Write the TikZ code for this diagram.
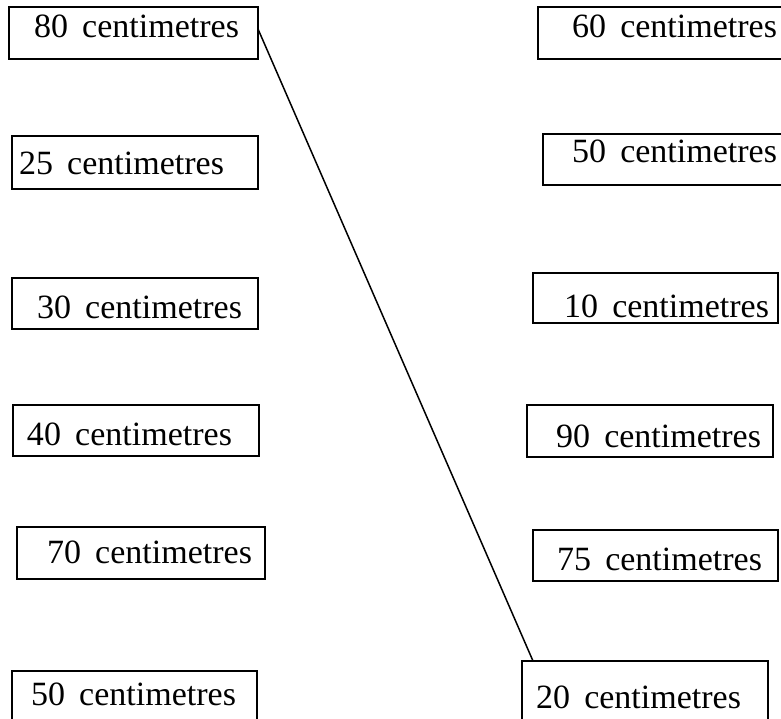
\documentclass[tikz,border=0pt]{standalone}
\usepackage{fontspec}
\setmainfont{Liberation Serif}
\begin{document}
\begin{tikzpicture}[x=1pt,y=-1pt,
  box/.style={draw,line width=1.8pt,inner sep=0pt,outer sep=0pt,anchor=north west},
  lbl/.style={inner sep=0pt,outer sep=0pt,anchor=base west,font=\fontsize{34}{36}\selectfont}]
\useasboundingbox (0,0) rectangle (781,719);
\newcommand{\cm}[1]{#1\hspace{0.42em}centimetres}
% left column
\node[box,minimum width=249pt,minimum height=52pt] (b80) at (9,7) {};
\node[lbl] (t80) at (34,38) {\cm{80}};
\node[box,minimum width=246pt,minimum height=53pt] (b25) at (12,136) {};
\node[lbl] (t25) at (19,175) {\cm{25}};
\node[box,minimum width=246pt,minimum height=51pt] (b30) at (12,278) {};
\node[lbl] (t30) at (37,318) {\cm{30}};
\node[box,minimum width=246pt,minimum height=51pt] (b40) at (13,405) {};
\node[lbl] (t40) at (27,445) {\cm{40}};
\node[box,minimum width=248pt,minimum height=52pt] (b70) at (17,527) {};
\node[lbl] (t70) at (47,563) {\cm{70}};
\node[box,minimum width=245pt,minimum height=60pt] (b50l) at (12,671) {};
\node[lbl] (t50l) at (31,705) {\cm{50}};
% right column
\node[box,minimum width=260pt,minimum height=52pt] (b60) at (538,7) {};
\node[lbl] (t60) at (572,38) {\cm{60}};
\node[box,minimum width=260pt,minimum height=51pt] (b50r) at (543,134) {};
\node[lbl] (t50r) at (572,163) {\cm{50}};
\node[box,minimum width=245pt,minimum height=50pt] (b10) at (533,273) {};
\node[lbl] (t10) at (564,317) {\cm{10}};
\node[box,minimum width=246pt,minimum height=52pt] (b90) at (527,405) {};
\node[lbl] (t90) at (556,447) {\cm{90}};
\node[box,minimum width=245pt,minimum height=51pt] (b75) at (533,530) {};
\node[lbl] (t75) at (557,570) {\cm{75}};
\node[box,minimum width=246pt,minimum height=60pt] (b20) at (522,661) {};
\node[lbl] (t20) at (536,708) {\cm{20}};
% connector
\draw[line width=1.5pt] ([yshift=4pt]b80.east) -- ([xshift=11pt]b20.north west);
\end{tikzpicture}
\end{document}
